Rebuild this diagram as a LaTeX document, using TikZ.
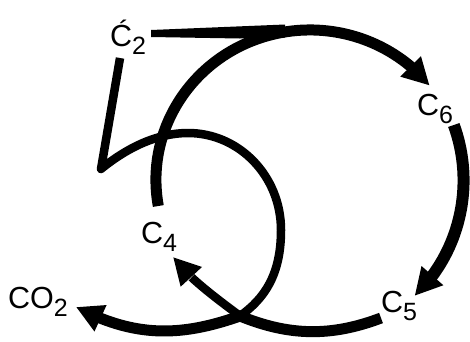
\documentclass[tikz,border=0pt]{standalone}
\usepackage{fontspec}
\setmainfont{Liberation Sans}
\usetikzlibrary{arrows.meta,bending}
\newcommand\mylab[2]{#1\raisebox{-8pt}{\fontsize{25}{25}\selectfont #2}}
\begin{document}
\begin{tikzpicture}[x=1pt,y=-1pt,
  lab/.style={inner sep=0pt, anchor=base west, font=\fontsize{30.5}{30.5}\selectfont},
  bigstroke/.style={line width=11pt},
  thinstroke/.style={line width=8.5pt},
  arr/.style={-{Triangle[length=27pt,width=27pt,flex]}}]
\useasboundingbox (0,0) rectangle (470,341);
% labels
\node[lab] (c2) at (110,46) {\mylab{\'C}{2}};
\node[lab] (c6) at (417,115) {\mylab{C}{6}};
\node[lab] (c4) at (141,243) {\mylab{C}{4}};
\node[lab] (c5) at (381,312) {\mylab{C}{5}};
\node[lab] (co2) at (8,308) {\mylab{CO}{2}};
% points
\coordinate (cusp) at (240,316);
\coordinate (vtip) at (101,169);
\coordinate (c2bot) at (120,58);
\coordinate (c4top) at (158.3,206);
\coordinate (c6top) at (453.8,125);
\coordinate (c5end) at (381,318);
\coordinate (c4tip) at (173,257);
\coordinate (co2tip) at (76,307);
% top bar of the 5
\fill (151,30) -- (285,24.5) -- (285,37.5) -- (240,38.5) -- (151,37) -- cycle;
% C4 -> top -> C6
\draw[bigstroke,arr] (c4top) arc[start angle=170, end angle=321, x radius=154, y radius=150];
% C6 -> C5
\draw[line width=12pt,arr] (c6top) arc[start angle=339.5, end angle=407, x radius=154, y radius=158];
% C5 -> cusp -> CO2
\draw[bigstroke,arr,line join=miter] (c5end) .. controls (331,337) and (289,336) .. (cusp)
  .. controls (179,337.5) and (134,337) .. (co2tip);
% stroke of the 5 and its bowl, then to C4
\draw[thinstroke,arr,line join=round] (c2bot) -- (vtip)
  .. controls (128,147) and (158,133) .. (188,133)
  .. controls (239.4,133) and (281,176.4) .. (281,230)
  .. controls (281,275) and (264.3,298.6) .. (cusp)
  .. controls (220,301) and (187.5,277.5) .. (c4tip);
\end{tikzpicture}
\end{document}
